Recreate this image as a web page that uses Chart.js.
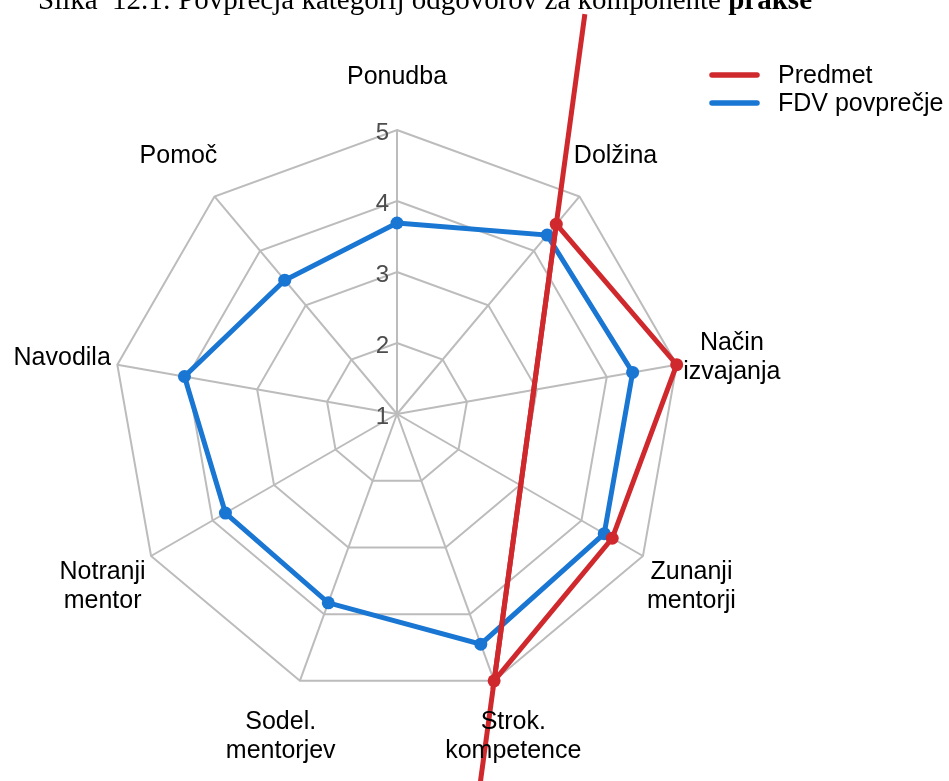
<!DOCTYPE html>
<html>
<head>
<meta charset="utf-8">
<script src="https://cdn.jsdelivr.net/npm/chart.js@4.4.1/dist/chart.umd.min.js"></script>
<style>
    html, body { margin: 0; padding: 0; background: #ffffff; overflow: hidden; }
    #wrap { position: relative; width: 949px; height: 781px; }
    #title {
        position: absolute; left: 38px; top: -15px; white-space: nowrap;
        font-family: "Liberation Serif", "Times New Roman", serif; font-size: 29px; line-height: 29px; color: #000;
    }
</style>
</head>
<body>
<div id="wrap">
    <canvas id="radarChart"></canvas>
    <div id="title">Slika&nbsp; 12.1: Povprečja kategorij odgovorov za komponente <b>prakse</b></div>
</div>
<script>
// categories (axes), clockwise from the top
const categories = ["Ponudba", "Dolžina", ["Način", "izvajanja"], ["Zunanji", "mentorji"], ["Strok.", "kompetence"],
    ["Sodel.", "mentorjev"], ["Notranji", "mentor"], "Navodila", "Pomoč"];
const seriesNames = ["Predmet", "FDV povprečje"];
const predmetValues = [null, 4.49, 5.0, 4.5, 5.0, null, null, null, null];
const fdvValues = [3.69, 4.29, 4.37, 4.37, 4.45, 3.83, 3.79, 4.04, 3.46];
const tickLabels = [1, 2, 3, 4, 5];

const colors = {
    predmet: "#D0292D",
    fdv: "#1976D2",
    grid: "#BCBCBC",
    tick: "#4D4D4D"
};

// how far the red line runs past its first / last point (fraction of the segment)
const lineExtend = [0.46, 0.3];

const labelFont = "25px 'Liberation Sans', Arial, sans-serif";

const radarText = {
    id: "radarText",
    beforeDatasetsDraw(chart) {
        const ctx = chart.ctx;
        const r = chart.scales.r;
        ctx.save();
        ctx.font = "24px 'Liberation Sans', Arial, sans-serif";
        ctx.fillStyle = colors.tick;
        ctx.textAlign = "right";
        ctx.textBaseline = "middle";
        tickLabels.forEach(v => {
            const p = r.getPointPositionForValue(0, v);
            ctx.fillText(String(v), p.x - 8, p.y + 3);
        });
        ctx.restore();
    },
    afterDatasetsDraw(chart) {
        const ctx = chart.ctx;
        // red line: the open ends run on past the first and last point
        const meta = chart.getDatasetMeta(0);
        const idx = predmetValues.map((v, i) => v == null ? -1 : i).filter(i => i >= 0);
        const a = meta.data[idx[0]], b = meta.data[idx[idx.length - 1]];
        const dx = b.x - a.x, dy = b.y - a.y;
        ctx.save();
        ctx.strokeStyle = colors.predmet;
        ctx.lineWidth = 5;
        ctx.beginPath();
        ctx.moveTo(a.x - dx * lineExtend[0], a.y - dy * lineExtend[0]);
        ctx.lineTo(b.x + dx * lineExtend[1], b.y + dy * lineExtend[1]);
        ctx.stroke();
        ctx.restore();
    },
    afterDraw(chart) {
        const ctx = chart.ctx;
        const r = chart.scales.r;
        ctx.save();
        ctx.font = labelFont;
        ctx.fillStyle = "#000";
        ctx.textAlign = "center";
        ctx.textBaseline = "middle";
        const lineH = 29;
        categories.forEach((lab, i) => {
            const lines = Array.isArray(lab) ? lab : [lab];
            const p = r.getPointPosition(i, r.drawingArea + 56);
            lines.forEach((t, j) => {
                ctx.fillText(t, p.x, p.y + 3 + (j - (lines.length - 1) / 2) * lineH);
            });
        });

        // legend
        const legendColors = [colors.predmet, colors.fdv];
        ctx.textAlign = "left";
        ctx.lineCap = "round";
        ctx.lineWidth = 5.5;
        seriesNames.forEach((name, i) => {
            const y = 75 + i * 28;
            ctx.strokeStyle = legendColors[i];
            ctx.beginPath();
            ctx.moveTo(712, y);
            ctx.lineTo(757, y);
            ctx.stroke();
            ctx.fillText(name, 778, y + 1);
        });
        ctx.restore();
    }
};

const ctx = document.getElementById("radarChart").getContext("2d");
new Chart(ctx, {
    type: "radar",
    data: {
        labels: categories,
        datasets: [
            {
                label: seriesNames[0],
                data: predmetValues,
                borderColor: colors.predmet,
                backgroundColor: colors.predmet,
                pointBackgroundColor: colors.predmet,
                borderWidth: 5,
                pointRadius: 6.5,
                pointBorderWidth: 0,
                spanGaps: true,
                fill: false,
                tension: 0
            },
            {
                label: seriesNames[1],
                data: fdvValues,
                borderColor: colors.fdv,
                backgroundColor: colors.fdv,
                pointBackgroundColor: colors.fdv,
                borderWidth: 5,
                pointRadius: 6.5,
                pointBorderWidth: 0,
                fill: false,
                tension: 0
            }
        ]
    },
    options: {
        responsive: true,
        maintainAspectRatio: false,
        animation: false,
        layout: {
            padding: { left: 113, right: 268, top: 130, bottom: 83 }
        },
        plugins: {
            legend: { display: false },
            tooltip: { enabled: false }
        },
        scales: {
            r: {
                min: 1,
                max: 5,
                ticks: { display: false, stepSize: 1 },
                grid: { color: colors.grid, lineWidth: 2 },
                angleLines: { color: colors.grid, lineWidth: 2 },
                pointLabels: { display: false }
            }
        }
    },
    plugins: [radarText]
});
</script>
</body>
</html>
